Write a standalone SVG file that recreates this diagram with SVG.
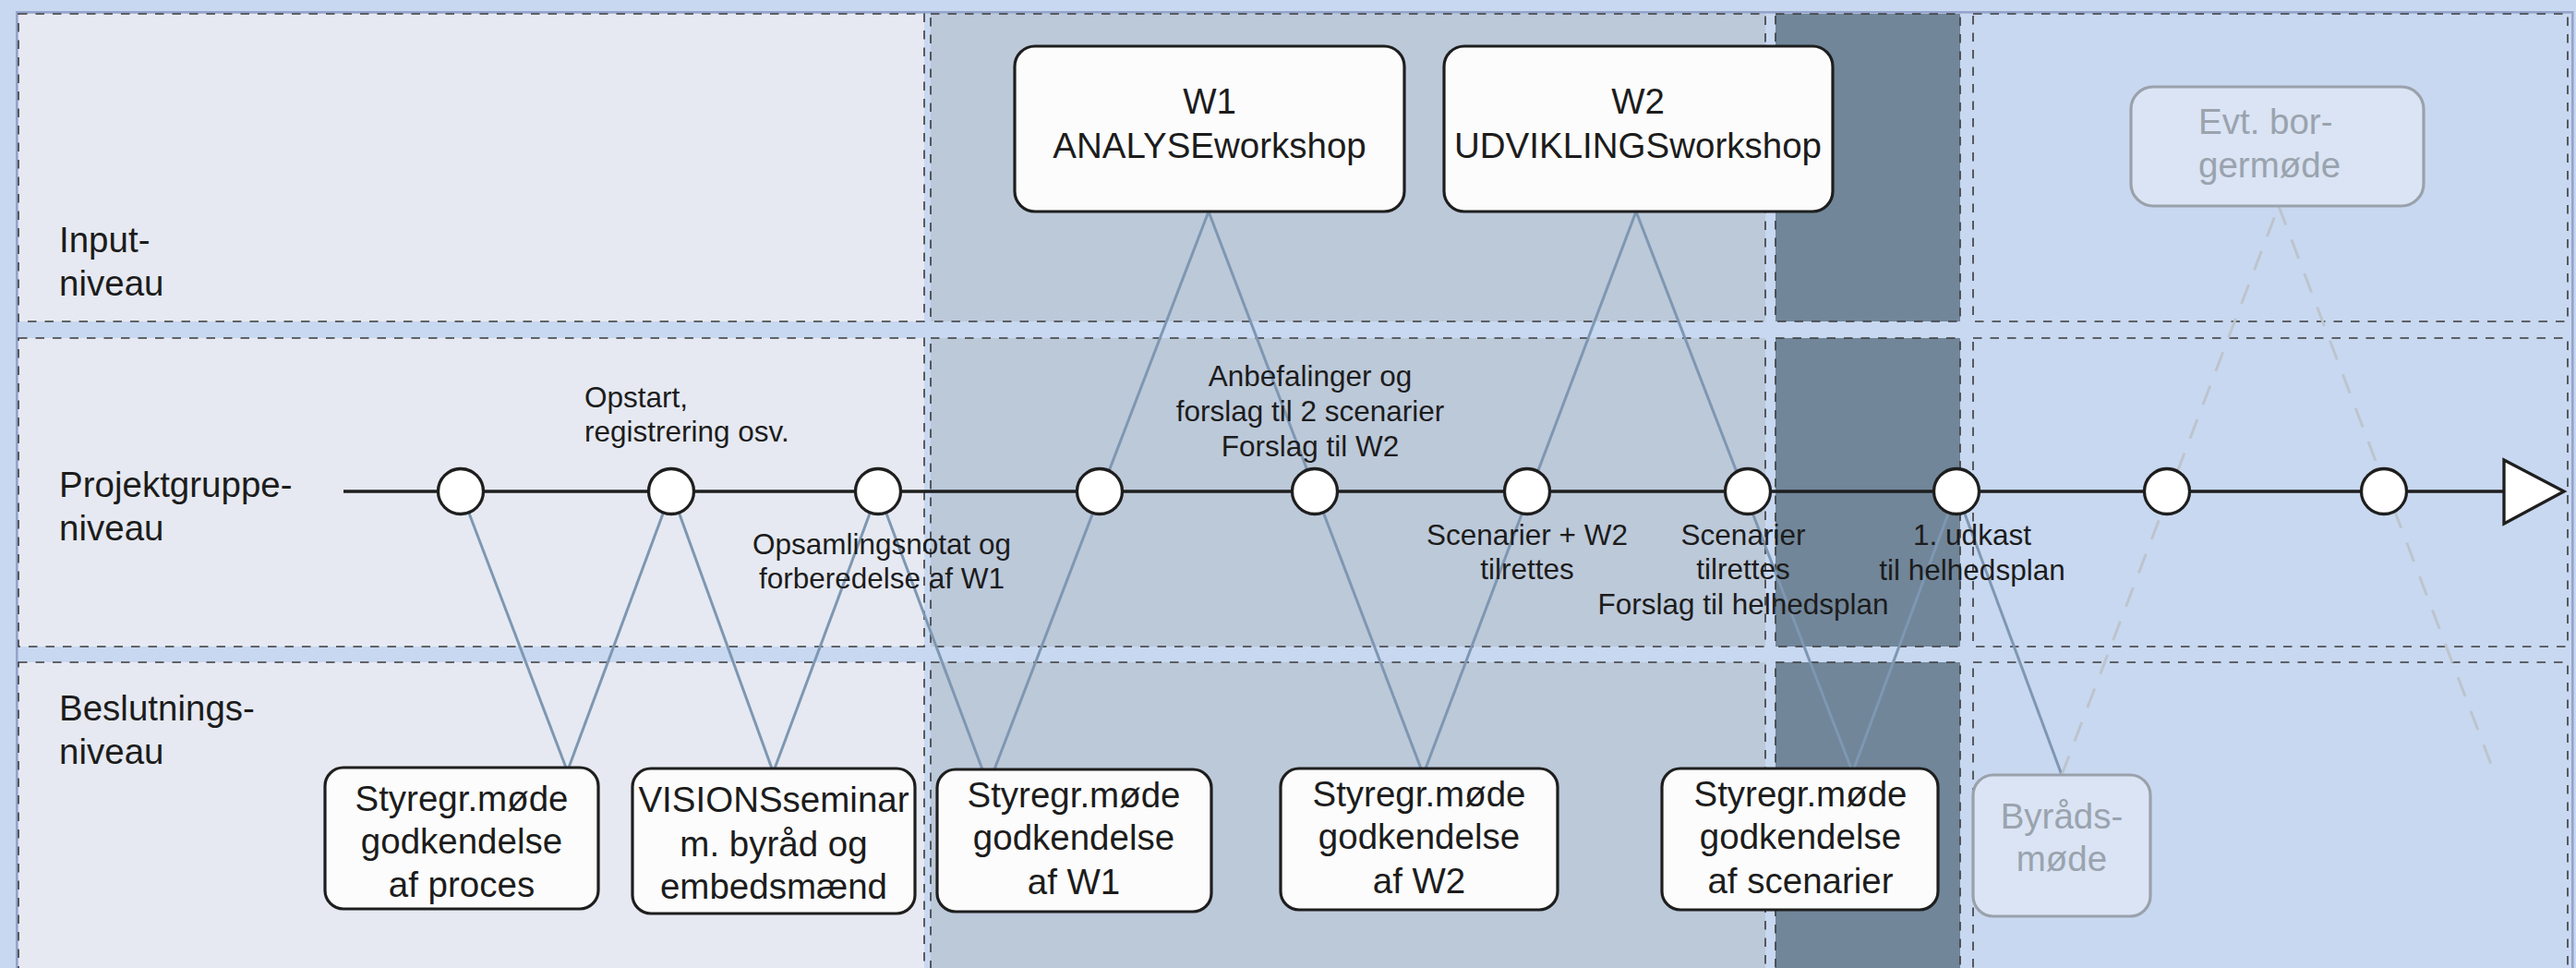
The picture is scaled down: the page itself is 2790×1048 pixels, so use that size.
<svg xmlns="http://www.w3.org/2000/svg" width="2790" height="1048" viewBox="0 0 2790 1048">
<style>
.cell{stroke:#3a3a3a;stroke-width:1.6;stroke-dasharray:9.5 9}
.c1{fill:#E6E9F1}.c2{fill:#BCC9D9}.c3{fill:#718699}.c4{fill:#C8D8F0}
.con{stroke:#7E97B2;stroke-width:3;fill:none}
.dcon{stroke:#BDC4CD;stroke-width:3;fill:none;stroke-dasharray:22 17}
.tl{stroke:#1e1e1e;stroke-width:3.4;fill:none}
.dot{fill:#ffffff;stroke:#1e1e1e;stroke-width:3.3}
.box{fill:#FCFCFC;stroke:#1e1e1e;stroke-width:3.2}
.gbox{fill:#DAE4F4;stroke:#9AA1AB;stroke-width:3.2}
text{font-family:"Liberation Sans",Arial,sans-serif;fill:#1c1c1c}
.big{font-size:38.5px}
.sm{font-size:31.5px}
.mid{text-anchor:middle}
.gt{fill:#9AA3AE}
</style>
<rect x="0" y="0" width="2790" height="1048" fill="#C8D8F0"/>
<rect x="18.3" y="13.3" width="2768" height="1100" fill="none" stroke="#94A4CC" stroke-width="2.6"/>
<g id="grid">
<rect class="cell c1" x="20" y="15" width="981" height="333"/>
<rect class="cell c1" x="20" y="366" width="981" height="334"/>
<rect class="cell c1" x="20" y="717" width="981" height="400"/>
<rect class="cell c2" x="1008" y="15" width="904" height="333"/>
<rect class="cell c2" x="1008" y="366" width="904" height="334"/>
<rect class="cell c2" x="1008" y="717" width="904" height="400"/>
<rect class="cell c3" x="1923" y="15" width="200" height="333"/>
<rect class="cell c3" x="1923" y="366" width="200" height="334"/>
<rect class="cell c3" x="1923" y="717" width="200" height="400"/>
<rect class="cell c4" x="2137" y="15" width="644" height="333"/>
<rect class="cell c4" x="2137" y="366" width="644" height="334"/>
<rect class="cell c4" x="2137" y="717" width="644" height="400"/>
</g>
<g id="row-labels">
<text class="big" x="64" y="273">Input-</text>
<text class="big" x="64" y="320">niveau</text>
<text class="big" x="64" y="538">Projektgruppe-</text>
<text class="big" x="64" y="585">niveau</text>
<text class="big" x="64" y="780">Beslutnings-</text>
<text class="big" x="64" y="827">niveau</text>
</g>
<g id="connectors">
<line class="con" x1="499" y1="532" x2="613" y2="831"/>
<line class="con" x1="727" y1="532" x2="616" y2="831"/>
<line class="con" x1="727" y1="532" x2="836" y2="832"/>
<line class="con" x1="951" y1="532" x2="839" y2="832"/>
<line class="con" x1="951" y1="532" x2="1064" y2="833"/>
<line class="con" x1="1309" y1="229" x2="1077" y2="833"/>
<line class="con" x1="1309" y1="229" x2="1539" y2="832"/>
<line class="con" x1="1772" y1="229" x2="1544" y2="832"/>
<line class="con" x1="1772" y1="229" x2="2005" y2="832"/>
<line class="con" x1="2119" y1="532" x2="2008" y2="832"/>
<line class="con" x1="2119" y1="532" x2="2233" y2="839"/>
<line class="dcon" x1="2233" y1="839" x2="2468" y2="223"/>
<line class="dcon" x1="2468" y1="223" x2="2702" y2="838"/>
</g>
<g id="timeline">
<line class="tl" x1="372" y1="532" x2="2712" y2="532"/>
<polygon points="2712,498 2777,532 2712,567" fill="#ffffff" stroke="#1e1e1e" stroke-width="3.3" stroke-linejoin="miter"/>
</g>
<g id="m1"><circle class="dot" cx="499" cy="532" r="24.5"/></g>
<g id="m2"><circle class="dot" cx="727" cy="532" r="24.5"/></g>
<g id="m3"><circle class="dot" cx="951" cy="532" r="24.5"/></g>
<g id="m4"><circle class="dot" cx="1191" cy="532" r="24.5"/></g>
<g id="m5"><circle class="dot" cx="1424" cy="532" r="24.5"/></g>
<g id="m6"><circle class="dot" cx="1654" cy="532" r="24.5"/></g>
<g id="m7"><circle class="dot" cx="1893" cy="532" r="24.5"/></g>
<g id="m8"><circle class="dot" cx="2119" cy="532" r="24.5"/></g>
<g id="m9"><circle class="dot" cx="2347" cy="532" r="24.5"/></g>
<g id="m10"><circle class="dot" cx="2582" cy="532" r="24.5"/></g>
<g id="labels">
<text class="sm" x="633" y="441">Opstart,</text>
<text class="sm" x="633" y="478">registrering osv.</text>
<text class="sm mid" x="955" y="600">Opsamlingsnotat og</text>
<text class="sm mid" x="955" y="637">forberedelse af W1</text>
<text class="sm mid" x="1419" y="418">Anbefalinger og</text>
<text class="sm mid" x="1419" y="456">forslag til 2 scenarier</text>
<text class="sm mid" x="1419" y="494">Forslag til W2</text>
<text class="sm mid" x="1654" y="590">Scenarier + W2</text>
<text class="sm mid" x="1654" y="627">tilrettes</text>
<text class="sm mid" x="1888" y="590">Scenarier</text>
<text class="sm mid" x="1888" y="627">tilrettes</text>
<text class="sm mid" x="1888" y="665">Forslag til helhedsplan</text>
<text class="sm mid" x="2136" y="590">1. udkast</text>
<text class="sm mid" x="2136" y="628">til helhedsplan</text>
</g>
<g id="w1">
<rect class="box" x="1099" y="50" width="422" height="179" rx="22"/>
<text class="big mid" x="1310" y="123">W1</text>
<text class="big mid" x="1310" y="171">ANALYSEworkshop</text>
</g>
<g id="w2">
<rect class="box" x="1564" y="50" width="421" height="179" rx="22"/>
<text class="big mid" x="1774" y="123">W2</text>
<text class="big mid" x="1774" y="171">UDVIKLINGSworkshop</text>
</g>
<g id="borgermoede">
<rect class="gbox" x="2308" y="94" width="317" height="129" rx="24"/>
<text class="big gt" x="2381" y="145">Evt. bor-</text>
<text class="big gt" x="2381" y="192">germøde</text>
</g>
<g id="b1">
<rect class="box" x="352" y="831" width="296" height="153" rx="20"/>
<text class="big mid" x="500" y="878">Styregr.møde</text>
<text class="big mid" x="500" y="924">godkendelse</text>
<text class="big mid" x="500" y="971">af proces</text>
</g>
<g id="b2">
<rect class="box" x="685" y="832" width="306" height="157" rx="20"/>
<text class="big mid" x="838" y="879">VISIONSseminar</text>
<text class="big mid" x="838" y="927">m. byråd og</text>
<text class="big mid" x="838" y="973">embedsmænd</text>
</g>
<g id="b3">
<rect class="box" x="1015" y="833" width="297" height="154" rx="20"/>
<text class="big mid" x="1163" y="874">Styregr.møde</text>
<text class="big mid" x="1163" y="920">godkendelse</text>
<text class="big mid" x="1163" y="968">af W1</text>
</g>
<g id="b4">
<rect class="box" x="1387" y="832" width="300" height="153" rx="20"/>
<text class="big mid" x="1537" y="873">Styregr.møde</text>
<text class="big mid" x="1537" y="919">godkendelse</text>
<text class="big mid" x="1537" y="967">af W2</text>
</g>
<g id="b5">
<rect class="box" x="1800" y="832" width="299" height="153" rx="20"/>
<text class="big mid" x="1950" y="873">Styregr.møde</text>
<text class="big mid" x="1950" y="919">godkendelse</text>
<text class="big mid" x="1950" y="967">af scenarier</text>
</g>
<g id="b6">
<rect class="gbox" x="2137" y="839" width="192" height="153" rx="22"/>
<text class="big mid gt" x="2233" y="897">Byråds-</text>
<text class="big mid gt" x="2233" y="943">møde</text>
</g>
</svg>
